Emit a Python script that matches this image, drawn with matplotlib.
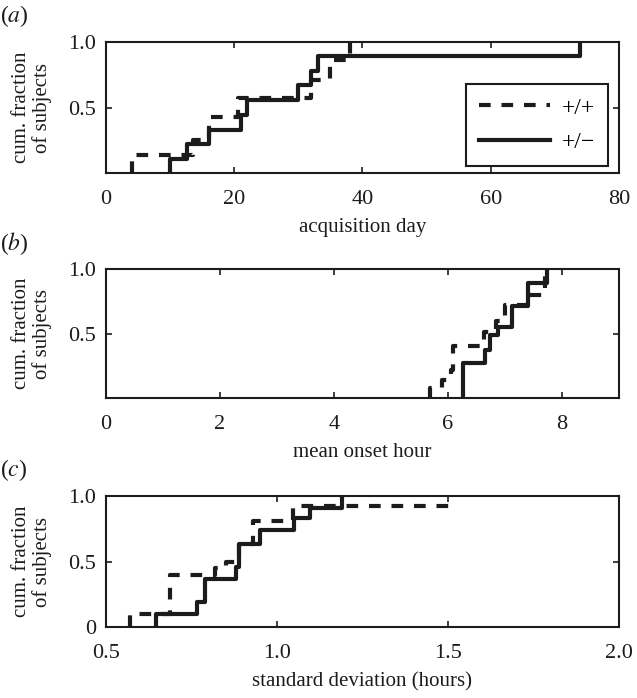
import matplotlib
matplotlib.use("Agg")
import matplotlib.pyplot as plt
from matplotlib.lines import Line2D

plt.rcParams['font.family'] = ['Liberation Serif', 'DejaVu Serif']
plt.rcParams['mathtext.fontset'] = 'stix'

INK = '#1c1c1c'
DASH = (0, (2.8, 2.6))

# (a) acquisition day -- jump positions and cumulative levels
acq_wt_x = [4, 13.5, 16, 20.6, 32, 35, 38]
acq_wt_y = [0.14, 0.25, 0.43, 0.57, 0.71, 0.86, 1.0]
acq_het_x = [10, 12.6, 16, 21, 22, 30, 32, 33, 74]
acq_het_y = [0.11, 0.22, 0.33, 0.44, 0.56, 0.67, 0.78, 0.89, 1.0]

# (b) mean onset hour
onset_wt_x = [5.68, 5.89, 6.05, 6.09, 6.63, 6.84, 7.0, 7.43, 7.7]
onset_wt_y = [0.08, 0.14, 0.22, 0.40, 0.51, 0.60, 0.72, 0.80, 1.0]
onset_het_x = [6.26, 6.65, 6.74, 6.88, 7.12, 7.4, 7.73]
onset_het_y = [0.27, 0.37, 0.49, 0.55, 0.71, 0.89, 1.0]

# (c) standard deviation (hours)
sd_wt_x = [0.57, 0.687, 0.82, 0.85, 0.89, 0.93, 1.047, 1.515]
sd_wt_y = [0.10, 0.40, 0.45, 0.50, 0.63, 0.81, 0.92, 0.92]
sd_het_x = [0.646, 0.767, 0.79, 0.88, 0.89, 0.95, 1.05, 1.096, 1.19]
sd_het_y = [0.10, 0.19, 0.37, 0.46, 0.63, 0.74, 0.83, 0.91, 1.0]

panels = [
    dict(tag='a', xlabel='acquisition day', xlim=(0, 80), xticks=[0, 20, 40, 60, 80],
         xticklabels=['0', '20', '40', '60', '80'], yticks=[0.5, 1.0],
         wt=(acq_wt_x, acq_wt_y), het=(acq_het_x, acq_het_y)),
    dict(tag='b', xlabel='mean onset hour', xlim=(0, 9), xticks=[0, 2, 4, 6, 8],
         xticklabels=['0', '2', '4', '6', '8'], yticks=[0.5, 1.0],
         wt=(onset_wt_x, onset_wt_y), het=(onset_het_x, onset_het_y)),
    dict(tag='c', xlabel='standard deviation (hours)', xlim=(0.5, 2.0),
         xticks=[0.5, 1.0, 1.5, 2.0], xticklabels=['0.5', '1.0', '1.5', '2.0'],
         yticks=[0, 0.5, 1.0],
         wt=(sd_wt_x, sd_wt_y), het=(sd_het_x, sd_het_y)),
]

fig = plt.figure(figsize=(6.37, 6.98), dpi=100)
boxes = [(0.1664, 0.7521, 0.8053, 0.1877),
         (0.1664, 0.4298, 0.8053, 0.1848),
         (0.1664, 0.1017, 0.8053, 0.1877)]


def cdf_xy(xs, ys):
    # vertical rise from zero at the first jump, then post-steps
    return [xs[0]] + list(xs), [0] + list(ys)


for p, box in zip(panels, boxes):
    ax = fig.add_axes(box)
    x, y = cdf_xy(*p['wt'])
    ax.step(x, y, where='post', color=INK, lw=3.0, linestyle=DASH)
    x, y = cdf_xy(*p['het'])
    ax.step(x, y, where='post', color=INK, lw=3.0)

    ax.set_xlim(*p['xlim'])
    ax.set_ylim(0, 1.0)
    ax.set_xticks(p['xticks'])
    ax.set_xticklabels(p['xticklabels'])
    ax.set_yticks(p['yticks'])
    ax.set_yticklabels([('0' if t == 0 else f'{t:.1f}') for t in p['yticks']])
    ax.tick_params(direction='in', top=True, right=True, length=4, width=1.2,
                   labelsize=16, colors=INK)
    ax.tick_params(axis='x', pad=12)
    ax.tick_params(axis='y', pad=7)
    for s in ax.spines.values():
        s.set_linewidth(1.5)
        s.set_color(INK)
    ax.set_xlabel(p['xlabel'], fontsize=15, color=INK, labelpad=7)
    ax.set_ylabel('cum. fraction\nof subjects', fontsize=15, color=INK,
                  linespacing=1.05)
    ax.yaxis.set_label_coords(-0.105, 0.5)
    fig.text(0.0, box[1] + box[3] + 0.037, f'(${p["tag"]}$)', fontsize=17,
             color=INK, va='center', ha='left')

    if p['tag'] == 'a':
        handles = [Line2D([], [], color=INK, lw=3.0, linestyle=DASH),
                   Line2D([], [], color=INK, lw=3.0)]
        leg = ax.legend(handles, ['+/+', '+/\u2212'], loc='upper right',
                        bbox_to_anchor=(0.9786, 0.679), borderaxespad=0,
                        fontsize=17, handlelength=3.0,
                        fancybox=False, framealpha=1, edgecolor=INK,
                        borderpad=0.55, labelspacing=0.55, handletextpad=0.5)
        leg.get_frame().set_linewidth(1.5)

fig.savefig('out.png', dpi=100)
